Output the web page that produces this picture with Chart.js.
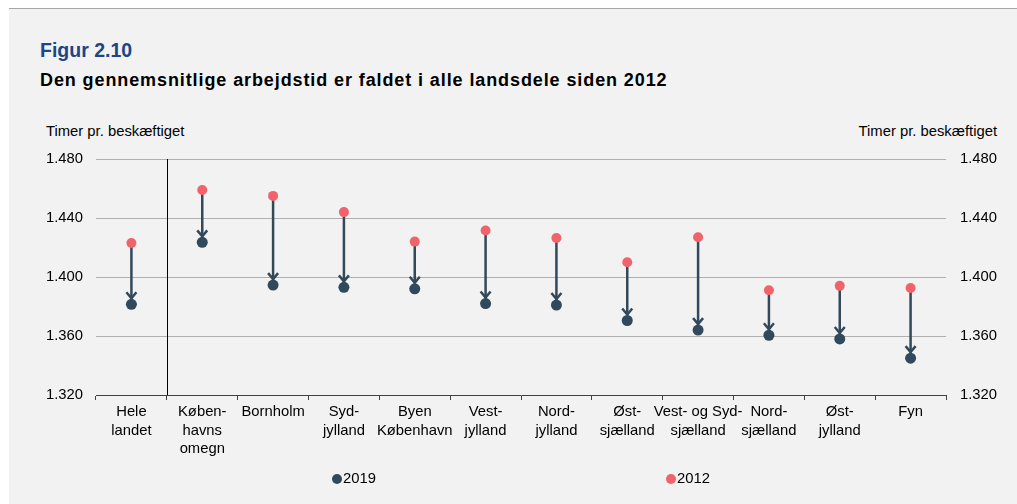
<!DOCTYPE html>
<html>
<head>
<meta charset="utf-8">
<script src="https://cdn.jsdelivr.net/npm/chart.js@4/dist/chart.umd.min.js"></script>
<style>
  html,body{margin:0;padding:0;background:#fff;width:1017px;height:504px;overflow:hidden;font-family:"Liberation Sans",Arial,sans-serif;}
  #bg{position:absolute;left:9px;top:8px;width:1008px;height:496px;background:#f2f2f2;border-top:1px solid #a6a6a6;}
  .t{position:absolute;white-space:nowrap;line-height:1;}
  #fig{left:40px;top:41px;font-size:19.5px;font-weight:bold;color:#1d4587;}
  #sub{left:40px;top:71px;font-size:18px;font-weight:bold;color:#000;letter-spacing:0.9px;}
  #ytl{left:46px;top:124px;font-size:14.8px;color:#000;}
  #ytr{right:20px;top:124px;font-size:14.8px;color:#000;}
  canvas{position:absolute;left:0;top:0;}
  .leg{position:absolute;top:471px;font-size:14.8px;color:#000;line-height:1;}
  .dot{display:inline-block;width:10px;height:10px;border-radius:50%;vertical-align:-1px;margin-right:1px;}
</style>
</head>
<body>
<div id="bg"></div>
<div class="t" id="fig">Figur 2.10</div>
<div class="t" id="sub">Den gennemsnitlige arbejdstid er faldet i alle landsdele siden 2012</div>
<div class="t" id="ytl">Timer pr. beskæftiget</div>
<div class="t" id="ytr">Timer pr. beskæftiget</div>
<canvas id="c" width="1017" height="504"></canvas>
<div class="leg" id="leg1" style="left:332px;"><span class="dot" style="background:#31495b"></span>2019</div>
<div class="leg" id="leg2" style="left:666px;"><span class="dot" style="background:#f0636b"></span>2012</div>
<script>
const categories = [["Hele","landet"],["Køben-","havns","omegn"],"Bornholm",["Syd-","jylland"],["Byen","København"],["Vest-","jylland"],["Nord-","jylland"],["Øst-","sjælland"],["Vest- og Syd-","sjælland"],["Nord-","sjælland"],["Øst-","jylland"],"Fyn"];
const values2012 = [1423, 1459, 1455, 1444, 1424, 1431.5, 1426.5, 1410, 1427, 1391, 1394, 1392.5];
const values2019 = [1381.5, 1423.5, 1394.5, 1393, 1392, 1382, 1381, 1370.5, 1364, 1360.5, 1358, 1345];
const yTicks = [1320, 1360, 1400, 1440, 1480];

const DARK = '#31495b', RED = '#f0636b';
const fmt = v => Math.floor(v/1000) + '.' + String(Math.round(v%1000)).padStart(3,'0');

const arrowPlugin = {
  id: 'arrows',
  beforeDatasetsDraw(chart) {
    const ctx = chart.ctx, xs = chart.scales.x, ys = chart.scales.y, ca = chart.chartArea;
    ctx.save();
    const sx = Math.round((xs.getPixelForValue(0) + xs.getPixelForValue(1)) / 2) + 0.5;
    ctx.strokeStyle = '#000'; ctx.lineWidth = 1;
    ctx.beginPath(); ctx.moveTo(sx, ca.top); ctx.lineTo(sx, ca.bottom); ctx.stroke();
    ctx.strokeStyle = DARK; ctx.lineWidth = 2.5;
    for (let i = 0; i < categories.length; i++) {
      const x = xs.getPixelForValue(i);
      const y1 = ys.getPixelForValue(values2012[i]);
      const y2 = ys.getPixelForValue(values2019[i]);
      const tip = y2 - 5;
      ctx.beginPath(); ctx.moveTo(x, y1); ctx.lineTo(x, tip); ctx.stroke();
      ctx.beginPath();
      ctx.moveTo(x - 5, tip - 7); ctx.lineTo(x, tip - 1); ctx.lineTo(x + 5, tip - 7);
      ctx.stroke();
    }
    ctx.restore();
  }
};

new Chart(document.getElementById('c'), {
  type: 'line',
  data: {
    labels: categories,
    datasets: [
      { label: '2019', data: values2019, showLine: false, pointRadius: 5.5, pointHoverRadius: 5.5, pointBackgroundColor: DARK, pointBorderWidth: 0, borderColor: DARK },
      { label: '2012', data: values2012, showLine: false, pointRadius: 5, pointHoverRadius: 5, pointBackgroundColor: RED, pointBorderWidth: 0, borderColor: RED }
    ]
  },
  options: {
    responsive: false,
    animation: false,
    events: [],
    layout: { padding: { top: 159, bottom: 39, left: 0, right: 0 } },
    plugins: { legend: { display: false }, tooltip: { enabled: false } },
    scales: {
      x: {
        type: 'category',
        offset: true,
        grid: { offset: true, drawOnChartArea: false, drawTicks: true, tickLength: 5, color: '#404040' },
        border: { color: '#404040', width: 1 },
        ticks: { color: '#000', font: { family: '"Liberation Sans", Arial', size: 14.8, lineHeight: 1.25 }, maxRotation: 0, autoSkip: false, padding: 3 },
        afterFit(s) { s.height = 70; }
      },
      y: {
        position: 'left',
        min: 1320, max: 1480,
        afterBuildTicks(s) { s.ticks = yTicks.map(v => ({ value: v })); },
        grid: { drawTicks: false, color: ctx => (ctx.tick && ctx.tick.value === 1320) ? 'rgba(0,0,0,0)' : '#b0b0b0' },
        border: { display: false },
        ticks: { color: '#000', font: { family: '"Liberation Sans", Arial', size: 14.8 }, padding: 13, callback: v => fmt(v) },
        afterFit(s) { s.width = 96; }
      },
      y2: {
        position: 'right',
        min: 1320, max: 1480,
        afterBuildTicks(s) { s.ticks = yTicks.map(v => ({ value: v })); },
        grid: { drawOnChartArea: false, drawTicks: false },
        border: { display: false },
        ticks: { color: '#000', font: { family: '"Liberation Sans", Arial', size: 14.8 }, padding: 14, callback: v => fmt(v) },
        afterFit(s) { s.width = 71; }
      }
    }
  },
  plugins: [arrowPlugin]
});
</script>
</body>
</html>
